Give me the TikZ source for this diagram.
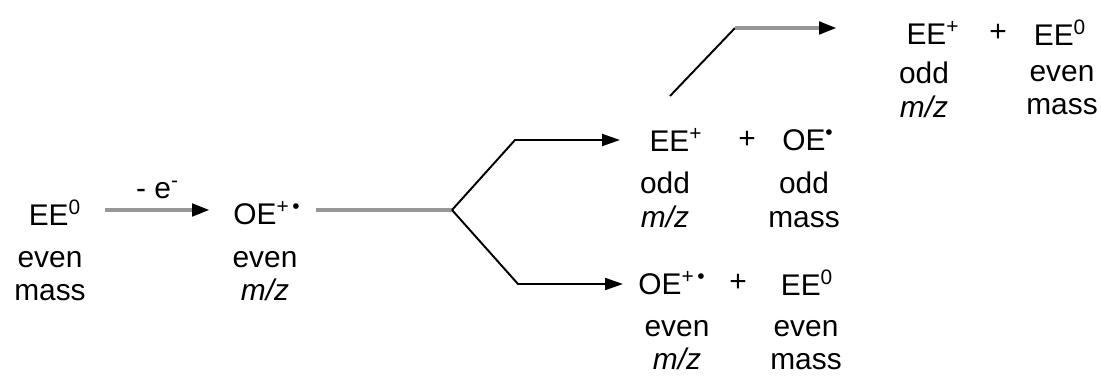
\documentclass[tikz,border=0pt]{standalone}
\usepackage{fontspec}
\setmainfont{Liberation Sans}
\usetikzlibrary{arrows.meta}
\newcommand{\rad}{\textsuperscript{+\,•}}
\begin{document}
\begin{tikzpicture}[
    every node/.style={font=\fontsize{17}{19}\selectfont, inner sep=1pt},
    lab/.style={align=center},
    grayline/.style={line width=2.8pt, draw={rgb,255:red,150;green,152;blue,152}},
    blkline/.style={line width=1.1pt, black},
    tip/.style={-{Triangle[length=0.36cm, width=0.24cm, color=black]}}
  ]
    \useasboundingbox (0,0) rectangle (22.02,7.5);
    % starting molecule and ionisation
    \node (ee0) at (1.10,3.24) {EE\textsuperscript{0}};
    \node[lab] (ee0lab) at (1.00,1.98) {even\\mass};
    \node (oe) at (5.34,3.24) {OE\rad};
    \node[lab] (oelab) at (5.30,1.98) {even\\\textit{m/z}};
    \coordinate (a1) at (2.10,3.30);
    \coordinate (a2) at (4.20,3.30);
    \draw[grayline, tip] (a1) -- (a2) node[midway, above=4pt] (elec) {- e\textsuperscript{-}};
    % branch point
    \coordinate (br) at (9.04,3.30);
    \coordinate (oeR) at (6.32,3.30);
    \draw[grayline] (oeR) -- (br);
    % upper branch
    \coordinate (up1) at (10.30,4.70);
    \coordinate (up2) at (12.40,4.70);
    \draw[blkline, tip] (br) -- (up1) -- (up2);
    \node (ee1) at (13.52,4.70) {EE\textsuperscript{+}};
    \node (pl1) at (14.94,4.70) {+};
    \node (oe2) at (16.16,4.70) {OE\textsuperscript{•}};
    \node[lab] (ee1lab) at (13.30,3.50) {odd\\\textit{m/z}};
    \node[lab] (oe2lab) at (16.08,3.50) {odd\\mass};
    % lower branch
    \coordinate (lo1) at (10.36,1.82);
    \coordinate (lo2) at (12.46,1.82);
    \draw[blkline, tip] (br) -- (lo1) -- (lo2);
    \node (oe3) at (13.44,1.84) {OE\rad};
    \node (pl2) at (14.76,1.84) {+};
    \node (ee2) at (16.14,1.84) {EE\textsuperscript{0}};
    \node[lab] (oe3lab) at (13.54,0.60) {even\\\textit{m/z}};
    \node[lab] (ee2lab) at (16.12,0.60) {even\\mass};
    % second step from EE+
    \coordinate (tp0) at (13.40,5.58);
    \coordinate (tp1) at (14.70,6.94);
    \coordinate (tp2) at (16.74,6.94);
    \draw[blkline] (tp0) -- (tp1);
    \draw[grayline, tip] (tp1) -- (tp2);
    \node (ee3) at (18.66,6.84) {EE\textsuperscript{+}};
    \node (pl3) at (19.96,6.84) {+};
    \node (ee4) at (21.20,6.84) {EE\textsuperscript{0}};
    \node[lab] (ee3lab) at (18.48,5.70) {odd\\\textit{m/z}};
    \node[lab] (ee4lab) at (21.24,5.70) {even\\mass};
\end{tikzpicture}
\end{document}
